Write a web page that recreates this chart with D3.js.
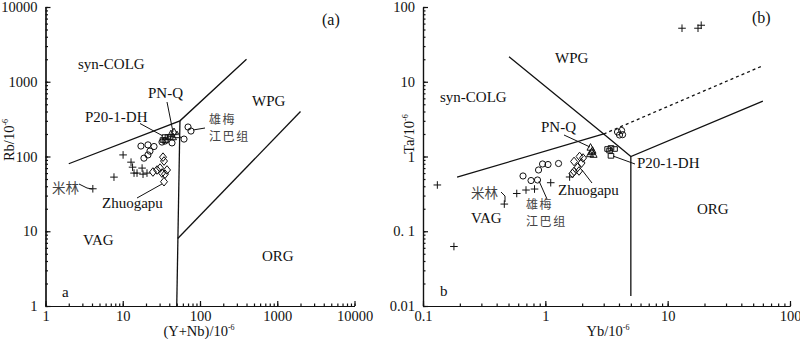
<!DOCTYPE html>
<html>
<head>
<meta charset="utf-8">
<script src="https://cdn.jsdelivr.net/npm/d3@7"></script>
<style>
  body { margin: 0; background: #fff; }
  svg text { font-family: "Liberation Serif", "DejaVu Serif", serif; fill: #111; }
  .cn { font-family: "Noto Sans CJK SC", sans-serif; fill: #444; }
</style>
</head>
<body>
<div class="canvas"></div>
<script>
// ---- data: panel (a) Rb vs (Y+Nb) ----
const aMilin    = [[4.1,37],[7.7,53],[10.1,105],[12.8,84],[13.4,72],[14.0,60],[15.3,60],[17.8,70],[18.3,58],[20.6,60]];
const aXiongmei = [[17.2,138],[21.2,143],[25.4,136],[22.5,118],[21.2,105],[18.8,95],[35.2,161],[43.4,152],[62.1,171],[70,248],[76.4,219],[32.2,156]];
const aZhuogapu = [[33.2,98],[34.2,87],[30.4,70],[27.8,66],[24.6,62],[32.2,60],[37.4,66],[35.2,58],[34.2,46]];
const aP20      = [[33.2,166],[36.3,166],[35.2,182],[38.5,182],[40.9,182]];
const aPNQ      = [[42.1,200],[46.1,213],[50.4,194],[44.7,182]];

// ---- data: panel (b) Ta vs Yb ----
const bMilin    = [[0.131,0.416],[0.179,0.0625],[0.462,0.231],[0.584,0.32],[0.695,0.356],[0.816,0.367],[1.107,0.446],[1.58,0.532],[13.1,52],[17.7,52],[18.8,57]];
const bXiongmei = [[0.657,0.549],[0.764,0.477],[0.863,0.485],[0.88,0.66],[0.949,0.794],[1.052,0.781],[1.282,0.806],[3.89,2.13],[4.2,2.23],[4.04,1.94],[4.28,1.96]];
const bZhuogapu = [[1.717,0.858],[1.905,1.0],[2.033,0.955],[1.977,0.819],[1.834,0.713],[1.717,0.63],[1.886,0.64],[1.668,0.593]];
const bP20      = [[3.23,1.26],[3.44,1.3],[3.68,1.26],[3.35,1.2],[3.44,1.02]];
const bPNQ      = [[2.34,1.32],[2.43,1.2],[2.48,1.06],[2.32,1.08],[2.39,1.15]];

// discrimination boundaries (Pearce et al. 1984)
const aBounds = [
  [[2,80],[55,300],[400,2000]],
  [[50,1],[55,300]],
  [[51.5,8],[2000,400]]
];
const bBounds = [
  [[0.505,21.6],[3,2],[5,1],[60,5.5]],
  [[5,1],[5,0.0136]],
  [[0.19,0.53],[3,2]]
];
const bDotted = [[3,2],[60,16.4]];

const aTicks = [1,10,100,1000,10000];
const aTickLabels = ["1","10","100","1000","10000"];
const bXTicks = [0.1,1,10,100];
const bXTickLabels = ["0.1","1","10","100"];
const bYTicks = [0.01,0.1,1,10,100];
const bYTickLabels = ["0.01","0. 1","1","10","100"];

const svg = d3.select('.canvas')
  .append('svg')
  .attr('width', 800)
  .attr('height', 339);

// markers
const markers = {
  plus: g => g.append('path').attr('d', 'M-3.8,0H3.8M0,-3.8V3.8'),
  circle: g => g.append('circle').attr('r', 3.1),
  diamond: g => g.append('path').attr('d', 'M0,-4.3L3.5,0L0,4.3L-3.5,0Z'),
  square: g => g.append('path').attr('d', 'M-2.8,-2.3H2.8V2.3H-2.8Z'),
  triangle: g => g.append('path').attr('d', 'M0,-3.9L3.5,2.7H-3.5Z')
};

function drawPanel(cfg) {
  const x = d3.scaleLog().domain(cfg.xDomain).range(cfg.xRange);
  const y = d3.scaleLog().domain(cfg.yDomain).range([306, 7]);
  const g = svg.append('g');

  // minor + major ticks, pointing inward
  const xMinor = d3.axisBottom(x).tickValues(x.ticks()).tickSize(-2.5).tickSizeOuter(0).tickFormat('');
  const yMinor = d3.axisLeft(y).tickValues(y.ticks()).tickSize(-2.5).tickSizeOuter(0).tickFormat('');
  g.append('g').attr('transform', 'translate(0,306)').call(xMinor);
  g.append('g').attr('transform', `translate(${cfg.xRange[0]},0)`).call(yMinor);

  const xMajor = d3.axisBottom(x).tickValues(cfg.xTicks).tickSize(-5).tickSizeOuter(0).tickPadding(5)
    .tickFormat((d, i) => cfg.xLabels[i]);
  const yMajor = d3.axisLeft(y).tickValues(cfg.yTicks).tickSize(-5).tickSizeOuter(0).tickPadding(8)
    .tickFormat((d, i) => cfg.yLabels[i]);
  g.append('g').attr('transform', 'translate(0,306)').call(xMajor);
  g.append('g').attr('transform', `translate(${cfg.xRange[0]},0)`).call(yMajor);

  g.selectAll('.domain, .tick line').attr('stroke', '#111').attr('stroke-width', 1.2);
  g.selectAll('.tick text').attr('font-size', 14.5).attr('font-family', '"Liberation Serif", serif').attr('fill', '#111');

  // boundary lines
  const line = d3.line().x(d => x(d[0])).y(d => y(d[1]));
  g.selectAll('path.bound')
    .data(cfg.bounds)
    .enter().append('path')
      .attr('class', 'bound')
      .attr('d', line)
      .attr('fill', 'none')
      .attr('stroke', '#111')
      .attr('stroke-width', 1.3);
  if (cfg.dotted) {
    g.append('path').attr('d', line(cfg.dotted))
      .attr('fill', 'none').attr('stroke', '#111').attr('stroke-width', 1.3)
      .attr('stroke-dasharray', '3,3');
  }

  // points
  cfg.series.forEach(s => {
    g.selectAll(null)
      .data(s.data)
      .enter().append('g')
        .attr('transform', d => `translate(${x(d[0])},${y(d[1])})`)
        .each(function() { markers[s.shape](d3.select(this)); })
        .attr('fill', 'none')
        .attr('stroke', '#111')
        .attr('stroke-width', 1);
  });

  // leader lines (pixel positions)
  g.selectAll('path.leader')
    .data(cfg.leaders)
    .enter().append('path')
      .attr('class', 'leader')
      .attr('d', d => d3.line()(d))
      .attr('fill', 'none')
      .attr('stroke', '#111')
      .attr('stroke-width', 1);

  // labels (multi-line ones go in one text element)
  cfg.labels.forEach(l => {
    const t = g.append('text')
      .attr('class', l.cn ? 'cn' : null)
      .attr('x', l.x).attr('y', l.y)
      .attr('font-size', l.size || (l.cn ? 13.5 : 15));
    const lines = l.t.split('\n');
    if (lines.length > 1) t.attr('font-size', 12).attr('letter-spacing', 1.6);
    lines.forEach((s, i) => {
      t.append('tspan').attr('x', l.x).attr('dy', i ? 17 : 0).text(s);
    });
  });

  // axis titles
  const xt = g.append('text')
    .attr('x', cfg.xTitle.x).attr('y', 336)
    .attr('text-anchor', 'middle')
    .attr('font-size', 14.5);
  xt.append('tspan').text(cfg.xTitle.t);
  xt.append('tspan').attr('font-size', 8).attr('dy', -6).text('-6');

  const yt = g.append('text')
    .attr('transform', `translate(${cfg.yTitle.x},${cfg.yTitle.y}) rotate(-90)`)
    .attr('text-anchor', 'middle')
    .attr('font-size', 14.5);
  yt.append('tspan').text(cfg.yTitle.t);
  yt.append('tspan').attr('font-size', 8).attr('dy', -6).text('-6');
}

drawPanel({
  xDomain: [1, 10000], xRange: [45.5, 354.5], yDomain: [1, 10000],
  xTicks: aTicks, xLabels: aTickLabels, yTicks: aTicks, yLabels: aTickLabels,
  bounds: aBounds,
  series: [
    { data: aMilin, shape: 'plus' },
    { data: aXiongmei, shape: 'circle' },
    { data: aZhuogapu, shape: 'diamond' },
    { data: aP20, shape: 'square' },
    { data: aPNQ, shape: 'triangle' }
  ],
  leaders: [
    [[167, 102], [173, 132]],
    [[140, 123.5], [163, 136]],
    [[193, 130], [205, 128]],
    [[79, 184], [87, 188], [92, 189]],
    [[137, 198], [162, 184]]
  ],
  labels: [
    { t: '(a)', x: 322, y: 25, size: 16 },
    { t: 'syn-COLG', x: 78, y: 69 },
    { t: 'PN-Q', x: 148, y: 98 },
    { t: 'P20-1-DH', x: 85, y: 122 },
    { t: 'WPG', x: 252, y: 106 },
    { t: '雄梅\n江巴组', x: 209, y: 124, cn: true },
    { t: '米林', x: 52, y: 193, cn: true },
    { t: 'Zhuogapu', x: 102, y: 208 },
    { t: 'VAG', x: 83, y: 245 },
    { t: 'ORG', x: 262, y: 261 },
    { t: 'a', x: 62, y: 297 }
  ],
  xTitle: { t: '(Y+Nb)/10', x: 199 },
  yTitle: { t: 'Rb/10', x: 14, y: 140 }
});

drawPanel({
  xDomain: [0.1, 100], xRange: [423, 790], yDomain: [0.01, 100],
  xTicks: bXTicks, xLabels: bXTickLabels, yTicks: bYTicks, yLabels: bYTickLabels,
  bounds: bBounds, dotted: bDotted,
  series: [
    { data: bMilin, shape: 'plus' },
    { data: bXiongmei, shape: 'circle' },
    { data: bZhuogapu, shape: 'diamond' },
    { data: bP20, shape: 'square' },
    { data: bPNQ, shape: 'triangle' }
  ],
  leaders: [
    [[564, 135], [590, 147]],
    [[613, 156], [635, 164]],
    [[501, 192], [505, 196], [505, 202]],
    [[539, 181], [547, 199]],
    [[582, 170], [592, 183]]
  ],
  labels: [
    { t: '(b)', x: 752, y: 23, size: 16 },
    { t: 'WPG', x: 555, y: 63 },
    { t: 'syn-COLG', x: 440, y: 102 },
    { t: 'PN-Q', x: 541, y: 132 },
    { t: 'P20-1-DH', x: 637, y: 168 },
    { t: '米林', x: 471, y: 198, cn: true },
    { t: '雄梅\n江巴组', x: 526, y: 209, cn: true },
    { t: 'Zhuogapu', x: 558, y: 195 },
    { t: 'VAG', x: 471, y: 223 },
    { t: 'ORG', x: 697, y: 214 },
    { t: 'b', x: 440, y: 296 }
  ],
  xTitle: { t: 'Yb/10', x: 608 },
  yTitle: { t: 'Ta/10', x: 414, y: 134 }
});
</script>
</body>
</html>
